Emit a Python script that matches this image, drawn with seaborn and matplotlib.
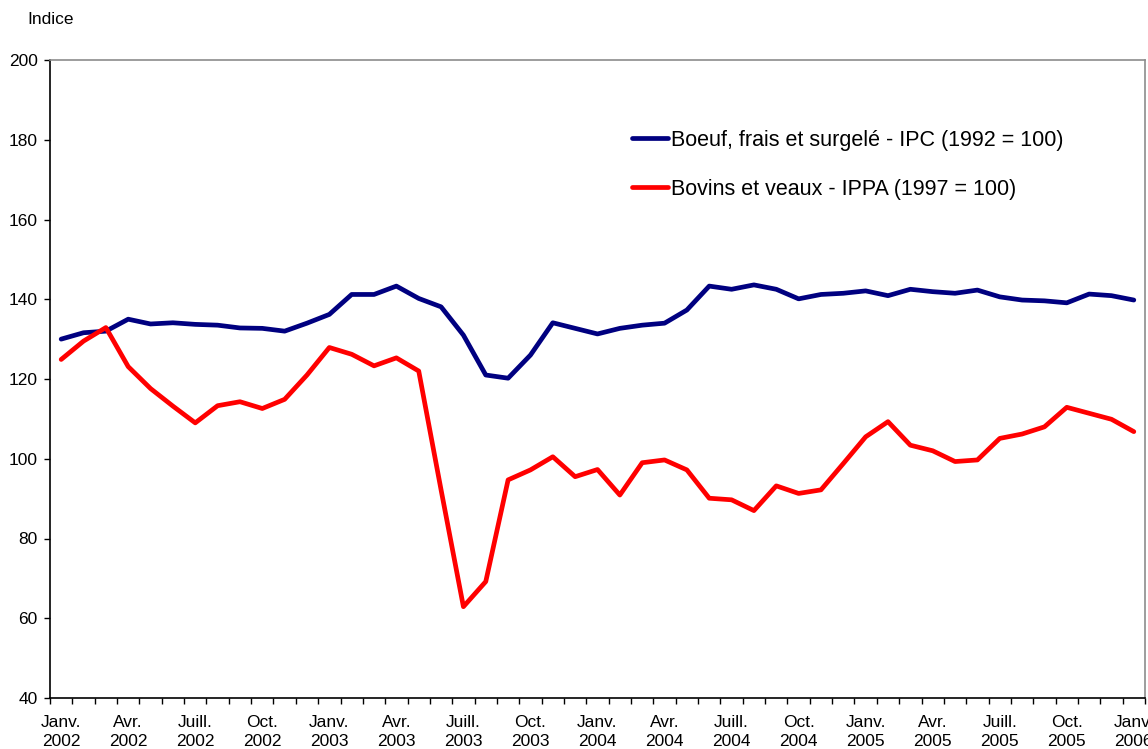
import pandas as pd
import seaborn as sns
import matplotlib.pyplot as plt
import numpy as np
from matplotlib.ticker import FixedLocator

# monthly values, Jan 2002 .. Jan 2006 (49 months)
ipc_boeuf = [130.0, 131.6, 132.0, 135.0, 133.8, 134.1, 133.7, 133.5, 132.8, 132.7,
             132.0, 134.0, 136.2, 141.2, 141.2, 143.3, 140.2, 138.1, 131.0, 121.0,
             120.2, 126.0, 134.1, 132.7, 131.3, 132.7, 133.5, 134.0, 137.3, 143.3,
             142.5, 143.6, 142.5, 140.1, 141.2, 141.5, 142.1, 140.9, 142.5, 141.9,
             141.5, 142.3, 140.6, 139.8, 139.6, 139.1, 141.3, 140.9, 139.8]
ippa_bovins = [124.9, 129.5, 132.9, 123.1, 117.6, 113.2, 109.0, 113.3, 114.3, 112.6,
               114.9, 121.0, 127.9, 126.2, 123.3, 125.3, 122.0, 92.2, 62.9, 69.2,
               94.7, 97.2, 100.5, 95.5, 97.3, 90.9, 99.0, 99.7, 97.2, 90.1,
               89.7, 87.0, 93.2, 91.3, 92.2, 98.8, 105.5, 109.3, 103.4, 102.0,
               99.3, 99.7, 105.1, 106.2, 108.0, 112.9, 111.4, 109.9, 106.8]
mois = ['Janv.', 'Avr.', 'Juill.', 'Oct.']
annees = ['2002', '2003', '2004', '2005', '2006']
serie_names = ['Boeuf, frais et surgelé - IPC (1992 = 100)',
               'Bovins et veaux - IPPA (1997 = 100)']

tick_labels = [f'{m}\n{a}' for a in annees for m in mois][:17]

n = len(ipc_boeuf)
df = pd.DataFrame({
    'mois': list(range(n)) * 2,
    'indice': ipc_boeuf + ippa_bovins,
    'serie': [serie_names[0]] * n + [serie_names[1]] * n,
})

sns.set_style('ticks')
plt.rcParams['font.family'] = ['Liberation Sans', 'DejaVu Sans']
plt.rcParams['text.color'] = 'black'

fig = plt.figure(figsize=(11.48, 7.49), dpi=100)
ax = fig.add_axes([50 / 1148, 1 - 698 / 749, 1095 / 1148, 638 / 749])

sns.lineplot(data=df, x='mois', y='indice', hue='serie', palette=['#000080', '#FF0000'],
             linewidth=3.4, ax=ax, legend=True)
for ln in ax.lines:
    ln.set_solid_joinstyle('round')
    ln.set_solid_capstyle('round')

ax.set_xlim(-0.5, n - 0.5)
ax.set_ylim(40, 200)
ax.set_yticks(np.arange(40, 201, 20))
ax.set_xticks(np.arange(0, n, 3))
ax.set_xticklabels(tick_labels, linespacing=1.4)
ax.xaxis.set_minor_locator(FixedLocator(np.arange(-0.5, n, 1)))
ax.tick_params(axis='x', which='major', length=0, pad=12, labelsize=12.5, colors='black')
ax.tick_params(axis='x', which='minor', length=4, width=1, color='black', direction='out')
ax.tick_params(axis='y', length=4, width=1, pad=5, labelsize=12.5, colors='black')
ax.set_xlabel('')
ax.set_ylabel('')

for side in ['left', 'bottom']:
    ax.spines[side].set_color('black')
    ax.spines[side].set_linewidth(1.2)
for side in ['top', 'right']:
    ax.spines[side].set_visible(True)
    ax.spines[side].set_color('#8c8c8c')
    ax.spines[side].set_linewidth(1.2)

leg = ax.legend(loc='upper left', bbox_to_anchor=((632 - 50) / 1095, (698 - 130) / 638),
                frameon=False, fontsize=15.5, handlelength=1.65, handletextpad=0.15,
                labelspacing=1.28, borderpad=0, borderaxespad=0)
for t in leg.get_texts():
    t.set_color('black')

fig.text(27 / 1148, 1 - 19 / 749, 'Indice', va='center', ha='left', fontsize=12.5,
         color='black')

plt.savefig('out.png', dpi=100)
